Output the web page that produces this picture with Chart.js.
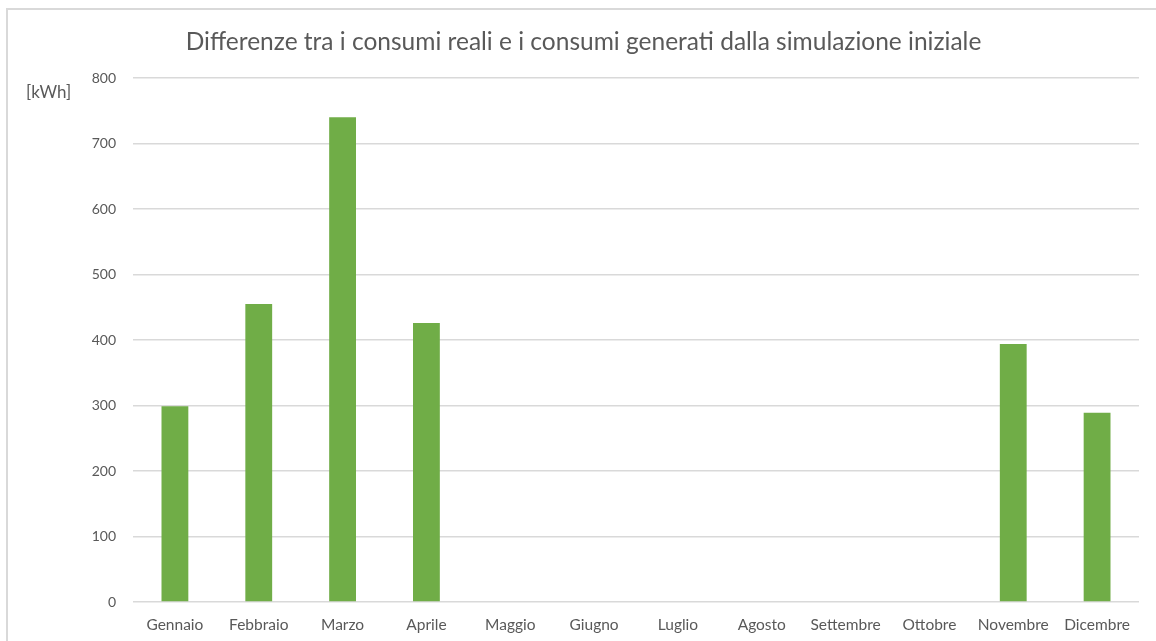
<html lang="it">

<head>
    <meta charset="UTF-8">
    <title>Differenze consumi</title>
    <script src="https://cdn.jsdelivr.net/npm/chart.js"></script>
    <style>
        html, body { margin: 0; padding: 0; background: #fff; overflow: hidden; }
        #frame {
            position: absolute; left: 6px; top: 8px; width: 1200px; height: 700px;
            border-left: 2px solid #d9d9d9; border-top: 2px solid #d9d9d9;
        }
        #wrap { position: absolute; left: 0; top: 0; width: 1156px; height: 641px; }
    </style>
</head>

<body>
    <div id="frame"></div>
    <div id="wrap"><canvas id="chartCanvas" width="1156" height="641"></canvas></div>
    <script>
        // mesi e differenze di consumo [kWh]
        const mesi = ['Gennaio', 'Febbraio', 'Marzo', 'Aprile', 'Maggio', 'Giugno',
            'Luglio', 'Agosto', 'Settembre', 'Ottobre', 'Novembre', 'Dicembre'];
        const differenze = [299, 455, 740, 426, 0, 0, 0, 0, 0, 0, 394, 289];
        const titolo = 'Differenze tra i consumi reali e i consumi generati dalla simulazione iniziale';
        const unita = '[kWh]';

        const grigio = '#595959';
        const font = 'Lato, "Open Sans", sans-serif';

        // etichetta dell'unita' in alto a sinistra
        const unitLabel = {
            id: 'unitLabel',
            afterDraw(chart) {
                const ctx = chart.ctx;
                ctx.save();
                ctx.font = '17px ' + font;
                ctx.fillStyle = grigio;
                ctx.textAlign = 'left';
                ctx.textBaseline = 'middle';
                ctx.fillText(unita, 26, 93);
                ctx.restore();
            }
        };

        const ctx = document.getElementById('chartCanvas').getContext('2d');
        window.myChart = new Chart(ctx, {
            type: 'bar',
            data: {
                labels: mesi,
                datasets: [{
                    label: 'Differenza',
                    data: differenze,
                    backgroundColor: '#70ad47',
                    borderWidth: 0,
                    barPercentage: 0.32,
                    categoryPercentage: 1
                }]
            },
            options: {
                responsive: false,
                animation: false,
                layout: { padding: { left: 28, right: 17, top: 27, bottom: 0 } },
                plugins: {
                    legend: { display: false },
                    tooltip: { enabled: false },
                    title: {
                        display: true,
                        text: titolo,
                        color: grigio,
                        font: { family: font, size: 24.5, weight: 'normal' },
                        padding: { top: 0, bottom: 21.6 }
                    }
                },
                scales: {
                    x: {
                        grid: { display: false, drawTicks: false },
                        border: { display: false },
                        ticks: { color: grigio, font: { family: font, size: 15.5 }, padding: 14, maxRotation: 0, autoSkip: false },
                        afterFit(scale) { scale.height = 39; }
                    },
                    y: {
                        min: 0,
                        max: 800,
                        grid: { color: '#d9d9d9', lineWidth: 1.5, drawTicks: false },
                        border: { display: false },
                        ticks: { stepSize: 100, color: grigio, font: { family: font, size: 14 }, padding: 17 },
                        afterFit(scale) { scale.width = 105; }
                    }
                }
            },
            plugins: [unitLabel]
        });
    </script>
</body>

</html>
